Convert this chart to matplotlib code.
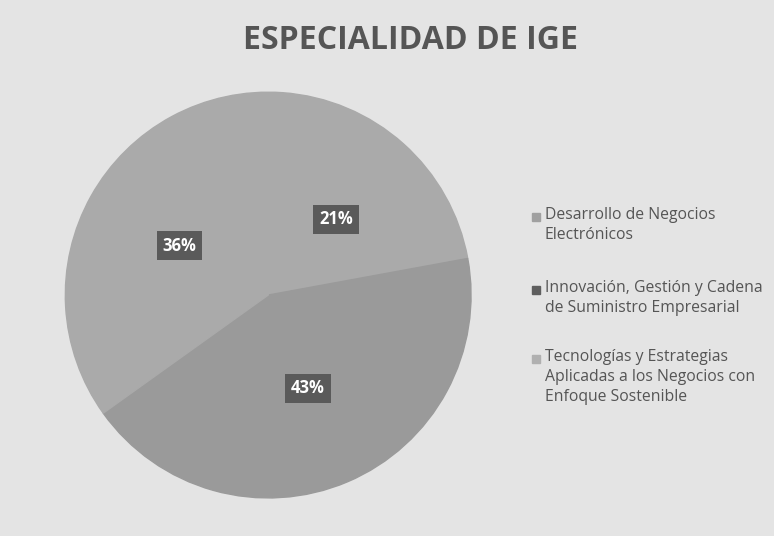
import matplotlib.pyplot as plt
from matplotlib.patches import Rectangle

plt.rcParams['font.family'] = ['Open Sans', 'DejaVu Sans']

# data
categories = [
    "Desarrollo de Negocios\nElectrónicos",
    "Innovación, Gestión y Cadena\nde Suministro Empresarial",
    "Tecnologías y Estrategias\nAplicadas a los Negocios con\nEnfoque Sostenible",
]
shares = [21, 43, 36]
title = "ESPECIALIDAD DE IGE"

# greys as they came out of the scan
slice_colors = ["#aaaaaa", "#9a9a9a", "#aaaaaa"]
legend_colors = ["#a0a0a0", "#5e5e5e", "#b0b0b0"]

fig = plt.figure(figsize=(7.74, 5.36), dpi=100, facecolor="#e4e4e4")
ax = fig.add_axes([0.084, 0.071, 0.525, 0.757])

wedges, texts, autotexts = ax.pie(
    shares, colors=slice_colors, startangle=86, counterclock=False,
    autopct="%d%%", pctdistance=0.5,
    textprops=dict(color="white", fontsize=12, fontweight="bold"),
)
# edge in the slice's own colour so no seam shows between equal greys
for w, c in zip(wedges, slice_colors):
    w.set_edgecolor(c)
    w.set_linewidth(1)
for t in autotexts:
    t.set_bbox(dict(boxstyle="square,pad=0.35", facecolor="#5a5a5a", edgecolor="none"))
ax.set_aspect("equal")
ax.set_xlim(-1, 1)
ax.set_ylim(-1, 1)

fig.text(0.53, 0.925, title, ha="center", va="center",
         fontsize=23, fontweight="bold", color="#555555")

# legend: square marker next to the first line of each entry
first_line_y = [217, 290, 359]
for lab, col, y in zip(categories, legend_colors, first_line_y):
    yf = 1 - y / 536
    fig.patches.append(Rectangle((532 / 774, yf - 4 / 536), 8 / 774, 8 / 536,
                                 transform=fig.transFigure, color=col))
    fig.text(545 / 774, yf + 10 / 536, lab, ha="left", va="top",
             fontsize=11.3, color="#555555", linespacing=1.35)

fig.savefig("out.png", dpi=100, facecolor=fig.get_facecolor())
